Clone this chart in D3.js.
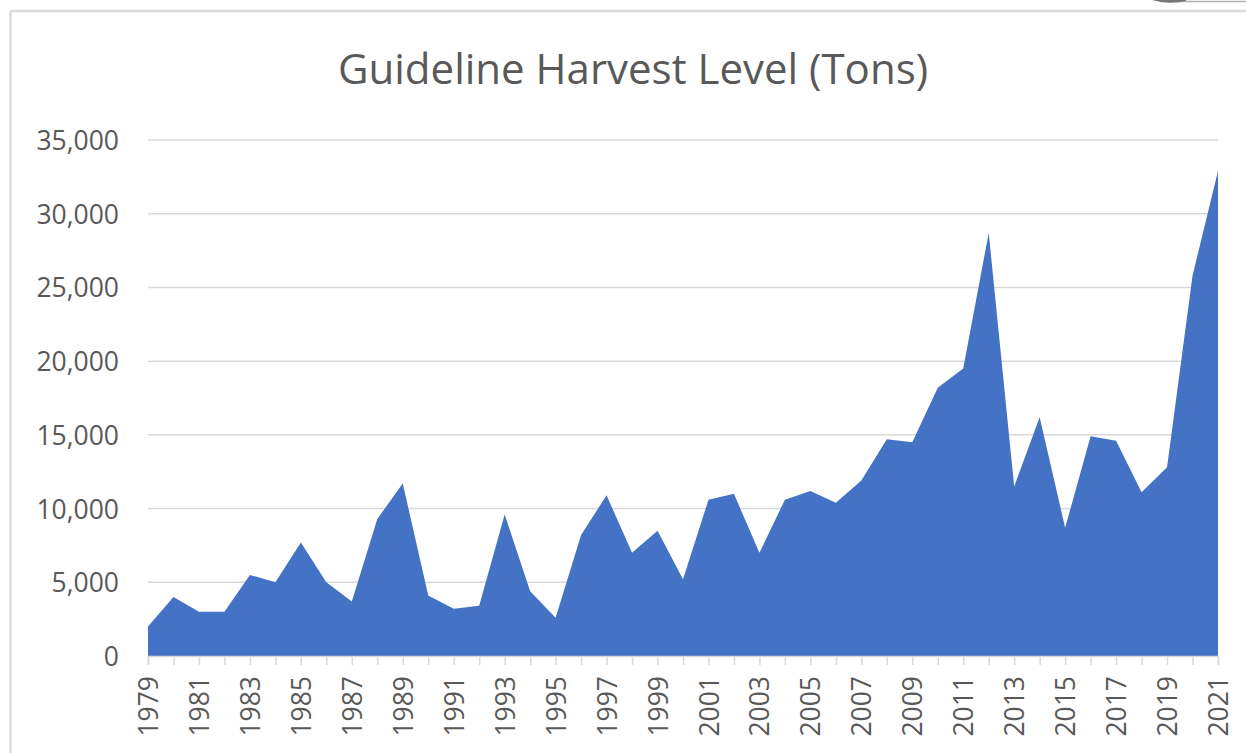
<!DOCTYPE html>
<html>
<head>
<meta charset="utf-8">
<script src="https://cdn.jsdelivr.net/npm/d3@7"></script>
<style>
  body { margin: 0; background: #fff; }
  svg { display: block; }
</style>
</head>
<body>
<div id="chart"></div>
<script>
// years on the category axis
var years = [1979, 1980, 1981, 1982, 1983, 1984, 1985, 1986, 1987, 1988,
             1989, 1990, 1991, 1992, 1993, 1994, 1995, 1996, 1997, 1998,
             1999, 2000, 2001, 2002, 2003, 2004, 2005, 2006, 2007, 2008,
             2009, 2010, 2011, 2012, 2013, 2014, 2015, 2016, 2017, 2018,
             2019, 2020, 2021]
// guideline harvest level, tons
var ghl = [2000, 4000, 3000, 3000, 5500, 5000, 7700, 5000, 3700, 9300,
           11700, 4100, 3200, 3400, 9600, 4400, 2600, 8200, 10900, 7000,
           8500, 5200, 10600, 11000, 7000, 10600, 11200, 10400, 11900, 14700,
           14500, 18200, 19500, 28700, 11500, 16200, 8700, 14900, 14600, 11100,
           12800, 25800, 32900]
var yTicks = [0, 5000, 10000, 15000, 20000, 25000, 30000, 35000]
var xTickLabels = [1979, 1981, 1983, 1985, 1987, 1989, 1991, 1993, 1995, 1997,
                   1999, 2001, 2003, 2005, 2007, 2009, 2011, 2013, 2015, 2017,
                   2019, 2021]

var W = 1246, H = 753
var margin = {top: 140, right: 28, bottom: 97, left: 148},
    width = W - margin.left - margin.right,
    height = H - margin.top - margin.bottom

var data = years.map(function (y, i) { return {year: y, value: ghl[i]} })

var svgRoot = d3.select("#chart").append("svg")
    .attr("width", W)
    .attr("height", H)

// chart frame (light grey border, top + left visible)
svgRoot.append("line")
    .attr("x1", 10.5).attr("x2", W).attr("y1", 11).attr("y2", 11)
    .attr("stroke", "#dcdcdc").attr("stroke-width", 2.5)
svgRoot.append("line")
    .attr("x1", 10.5).attr("x2", 10.5).attr("y1", 11).attr("y2", H)
    .attr("stroke", "#dcdcdc").attr("stroke-width", 2.5)
// small smudge in the top right corner of the screenshot
svgRoot.append("line")
    .attr("x1", 1160).attr("x2", W).attr("y1", 1.5).attr("y2", 1.5)
    .attr("stroke", "#b0b0b0").attr("stroke-width", 1.5)
svgRoot.append("path")
    .attr("d", "M1152,0 Q1168,5 1186,1 L1186,0 Z")
    .attr("fill", "#777")

// title
svgRoot.append("text")
    .attr("x", 633)
    .attr("y", 84)
    .attr("text-anchor", "middle")
    .style("font-family", "'Open Sans', sans-serif")
    .style("font-size", "42px")
    .style("fill", "#595959")
    .text("Guideline Harvest Level (Tons)")

var svg = svgRoot.append("g")
    .attr("transform", "translate(" + margin.left + "," + margin.top + ")")

var x = d3.scalePoint()
    .domain(years)
    .range([0, width])
    .padding(0)

var y = d3.scaleLinear()
    .domain([0, 35000])
    .range([height, 0])

// gridlines
svg.append("g")
    .selectAll("line")
    .data(yTicks.filter(function (d) { return d > 0 }))
    .enter()
    .append("line")
      .attr("x1", 0)
      .attr("x2", width)
      .attr("y1", function (d) { return y(d) })
      .attr("y2", function (d) { return y(d) })
      .attr("stroke", "#d9d9d9")
      .attr("stroke-width", 1.5)

// area
var area = d3.area()
    .x(function (d) { return x(d.year) })
    .y0(height)
    .y1(function (d) { return y(d.value) })

svg.append("path")
    .datum(data)
    .attr("d", area)
    .attr("fill", "#4472c4")

// Y axis
var yAxis = svg.append("g")
    .call(d3.axisLeft(y)
      .tickValues(yTicks)
      .tickSize(0)
      .tickPadding(29)
      .tickFormat(d3.format(",")))
yAxis.select(".domain").remove()
yAxis.selectAll("text")
    .style("font-family", "'Open Sans', sans-serif")
    .style("font-size", "26.5px")
    .style("fill", "#595959")
    .attr("dy", "0.36em")

// X axis
var xAxis = svg.append("g")
    .attr("transform", "translate(0," + height + ")")
    .call(d3.axisBottom(x)
      .tickSize(9)
      .tickFormat(function (d) { return xTickLabels.indexOf(d) >= 0 ? d : "" }))
xAxis.select(".domain")
    .attr("stroke", "#d9d9d9")
    .attr("stroke-width", 1.5)
xAxis.selectAll(".tick line")
    .attr("stroke", "#d9d9d9")
    .attr("stroke-width", 1.5)
xAxis.selectAll("text")
    .style("font-family", "'Open Sans', sans-serif")
    .style("font-size", "26.5px")
    .style("fill", "#595959")
    .attr("text-anchor", "end")
    .attr("transform", "rotate(-90)")
    .attr("x", -20)
    .attr("y", 0)
    .attr("dy", "0.36em")
</script>
</body>
</html>
